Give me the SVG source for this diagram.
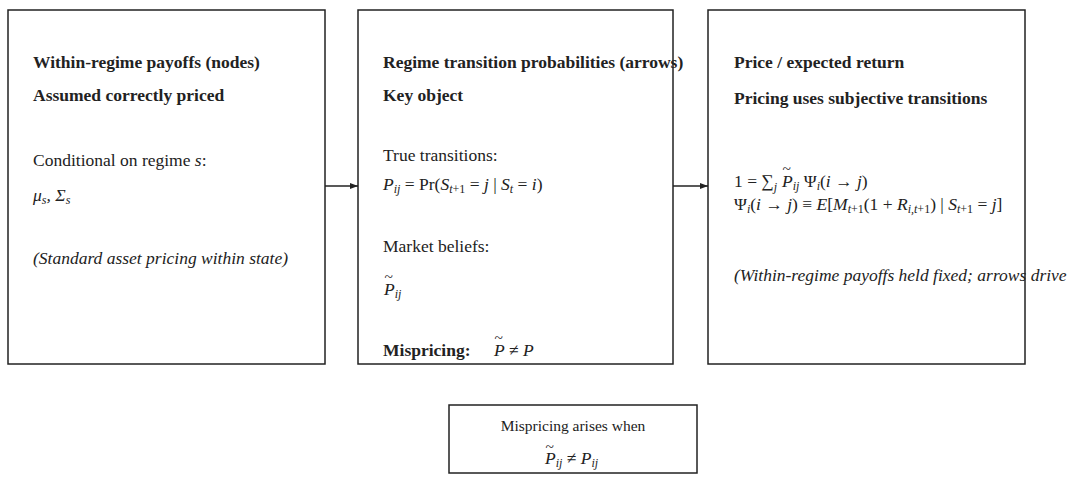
<svg xmlns="http://www.w3.org/2000/svg" width="1080" height="477" viewBox="0 0 1080 477">
<defs>
<style>
text{font-family:"Liberation Serif","Times New Roman",serif;font-size:17.5px;fill:#222}
.b{font-weight:bold}
.i{font-style:italic}
.s{font-size:12px}
.t{font-size:15.5px}
.box{fill:#fff;stroke:#222;stroke-width:1.5}
.c{stroke:#222;stroke-width:1.3;fill:none}
</style>
<marker id="ah" markerWidth="8" markerHeight="6" refX="8" refY="3" orient="auto" markerUnits="userSpaceOnUse"><path d="M0,0 L8,3 L0,6 Z" fill="#222"/></marker>
</defs>
<g id="connectors">
<line class="c" x1="325" y1="186" x2="358" y2="186" marker-end="url(#ah)"/>
<line class="c" x1="673" y1="186" x2="708" y2="186" marker-end="url(#ah)"/>
</g>
<g id="node1">
<rect class="box" x="8" y="10" width="317" height="354"/>
<text class="b" x="33" y="68">Within-regime payoffs (nodes)</text>
<text class="b" x="33" y="101">Assumed correctly priced</text>
<text x="33" y="166">Conditional on regime <tspan class="i">s</tspan>:</text>
<text x="33" y="201" class="i">μ<tspan class="s" dy="3">s</tspan><tspan dy="-3">,  Σ</tspan><tspan class="s" dy="3">s</tspan></text>
<text x="33" y="264" class="i">(Standard asset pricing within state)</text>
</g>
<g id="node2">
<rect class="box" x="358" y="10" width="315" height="354"/>
<text class="b" x="383" y="68">Regime transition probabilities (arrows)</text>
<text class="b" x="383" y="101">Key object</text>
<text x="383" y="161">True transitions:</text>
<text x="383" y="190"><tspan class="i">P</tspan><tspan class="s i" dy="3">ij</tspan><tspan dy="-3"> = Pr(</tspan><tspan class="i">S</tspan><tspan class="s i" dy="3">t</tspan><tspan class="s">+1</tspan><tspan dy="-3"> = </tspan><tspan class="i">j</tspan> | <tspan class="i">S</tspan><tspan class="s i" dy="3">t</tspan><tspan dy="-3"> = </tspan><tspan class="i">i</tspan>)</text>
<text x="383" y="252">Market beliefs:</text>
<text x="383" y="295"><tspan class="t" dx="1" dy="-13">~</tspan><tspan class="i" dx="-9" dy="13">P</tspan><tspan class="s i" dy="3">ij</tspan></text>
<text x="383" y="356" class="b">Mispricing:</text>
<text x="493" y="356"><tspan class="t" dx="1" dy="-13">~</tspan><tspan class="i" dx="-9" dy="13">P</tspan> ≠ <tspan class="i">P</tspan></text>
</g>
<g id="node3">
<rect class="box" x="708" y="10" width="317" height="354"/>
<text class="b" x="734" y="68">Price / expected return</text>
<text class="b" x="734" y="104">Pricing uses subjective transitions</text>
<text x="734" y="187">1 = ∑<tspan class="s i" dy="4">j</tspan><tspan dy="-4"> </tspan><tspan class="t" dx="1" dy="-13">~</tspan><tspan class="i" dx="-9" dy="13">P</tspan><tspan class="s i" dy="3">ij</tspan><tspan dy="-3"> Ψ</tspan><tspan class="s i" dy="3">i</tspan><tspan dy="-3">(</tspan><tspan class="i">i</tspan> → <tspan class="i">j</tspan>)</text>
<text x="734" y="210">Ψ<tspan class="s i" dy="3">i</tspan><tspan dy="-3">(</tspan><tspan class="i">i</tspan> → <tspan class="i">j</tspan>) ≡ <tspan class="i">E</tspan>[<tspan class="i">M</tspan><tspan class="s i" dy="3">t</tspan><tspan class="s">+1</tspan><tspan dy="-3">(1 + </tspan><tspan class="i">R</tspan><tspan class="s i" dy="3">i,t</tspan><tspan class="s">+1</tspan><tspan dy="-3">) | </tspan><tspan class="i">S</tspan><tspan class="s i" dy="3">t</tspan><tspan class="s">+1</tspan><tspan dy="-3"> = </tspan><tspan class="i">j</tspan>]</text>
<text x="734" y="281" class="i">(Within-regime payoffs held fixed; arrows drive</text>
</g>
<g id="note">
<rect class="box" x="449" y="405" width="248" height="68"/>
<text x="573" y="431" text-anchor="middle" class="t">Mispricing arises when</text>
<text x="544" y="464"><tspan class="t" dx="1" dy="-12">~</tspan><tspan class="i" dx="-9" dy="12">P</tspan><tspan class="s i" dy="3">ij</tspan><tspan dy="-3"> ≠ </tspan><tspan class="i">P</tspan><tspan class="s i" dy="3">ij</tspan></text>
</g>
</svg>
